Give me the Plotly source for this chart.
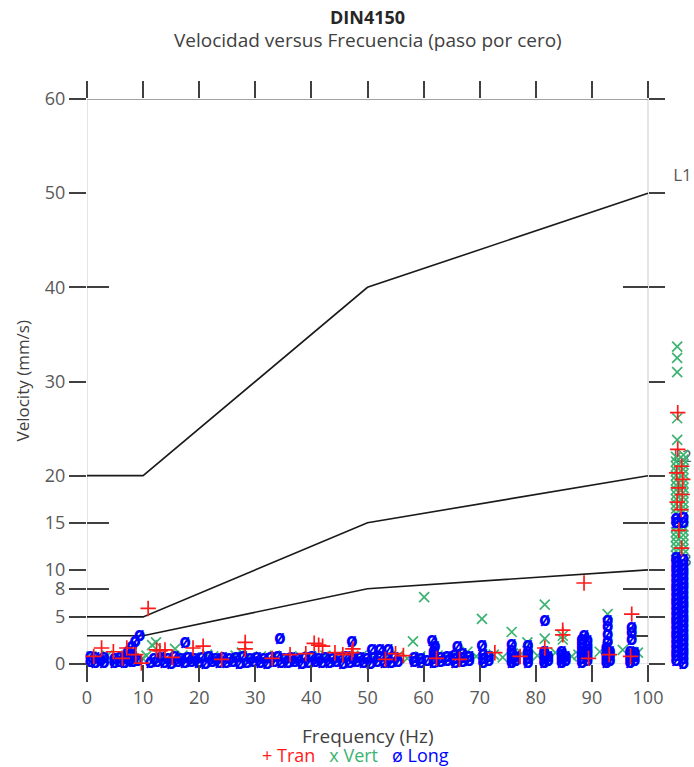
import plotly.graph_objects as go

# ---------------- text ----------------
TITLE = "DIN4150"
SUBTITLE = "Velocidad versus Frecuencia (paso por cero)"
X_TITLE = "Frequency (Hz)"
Y_TITLE = "Velocity (mm/s)"
SERIES_NAMES = ["Tran", "Vert", "Long"]
SERIES_SYMBOLS = ["+", "x", "ø"]

# ---------------- axes ----------------
X_TICKS = [0, 10, 20, 30, 40, 50, 60, 70, 80, 90, 100]
Y_TICKS = [0, 5, 8, 10, 15, 20, 30, 40, 50, 60]
Y_LONG_TICKS = [8, 15, 40]
Y_RIGHT_INNER_TICKS = [3, 5]
X_MAX = 100
Y_MAX = 60

# ---------------- DIN 4150 limit lines ----------------
LINE_FREQ = [0, 10, 50, 100]
L1_VEL = [20, 20, 40, 50]
L2_VEL = [5, 5, 15, 20]
L3_VEL = [3, 3, 8, 10]
LINE_LABELS = ["L1", "L2", "L3"]
LABEL_FREQ = [104.5, 104.5, 104.5]
LABEL_VEL = [51.7, 21.9, 10.9]

# ---------------- Tran (+) ----------------
TRAN_FREQ = [2.6, 4.7, 7.1, 8.7, 9.7, 10.9, 12.4, 13.0, 13.9, 18.9, 20.7, 28.2, 28.2,
             40.5, 41.3, 42.0, 47.2, 47.4, 72.7, 81.6, 84.8, 84.8, 88.6, 97.1,
             1.2, 6.3, 15.2, 24.0, 33.0, 36.2, 39.0, 44.2, 45.6, 53.2, 55.0, 56.4,
             62.3, 66.4, 77.2, 89.4, 93.1, 96.9]
TRAN_VEL = [1.7, 1.3, 1.7, 1.0, 0.1, 5.9, 1.5, 1.4, 1.5, 1.7, 1.9, 2.3, 1.6,
            2.2, 2.0, 1.9, 1.2, 1.6, 1.2, 1.7, 3.6, 3.1, 8.6, 5.3,
            0.8, 0.6, 0.7, 0.5, 0.6, 1.0, 1.1, 1.2, 1.0, 0.5, 1.1, 0.9,
            0.6, 0.5, 0.8, 0.6, 1.0, 0.8]
# points above 100 Hz (drawn in the column right of the frame)
TRAN_HIGH_FREQ = [105.3, 105.3, 106.0, 105.1, 106.2, 105.4, 106.1, 105.2, 105.9, 105.5, 106.0]
TRAN_HIGH_VEL = [26.7, 22.8, 21.0, 20.3, 19.6, 18.7, 18.0, 17.2, 16.4, 14.2, 12.3]

# ---------------- Vert (x) ----------------
VERT_FREQ = [11.6, 12.3, 15.7, 21.4, 27.6, 58.1, 60.1, 67.8, 70.4, 75.7, 78.5, 81.6, 81.6,
             84.8, 84.8, 92.8, 92.8, 97.1,
             0.8, 2.0, 3.6, 4.3, 5.5, 7.0, 9.9, 10.6, 13.0, 14.4, 17.0, 19.1, 22.5, 24.5,
             26.5, 29.0, 31.0, 33.5, 35.5, 38.0, 40.1, 42.5, 44.5, 46.2, 49.0, 51.0, 53.5,
             55.5, 57.1, 59.4, 62.5, 64.8, 67.2, 69.4, 72.5, 74.1, 77.5, 80.3, 83.5, 86.4,
             87.6, 91.4, 95.5, 98.2]
VERT_VEL = [2.0, 2.3, 1.6, 1.0, 1.2, 2.4, 7.1, 1.3, 4.8, 3.4, 2.3, 6.3, 2.7,
            2.6, 3.0, 5.3, 1.8, 1.3,
            0.8, 0.5, 0.9, 0.4, 0.7, 0.9, 0.6, 0.9, 0.8, 0.5, 0.9, 0.7, 0.8, 0.6,
            0.9, 0.7, 0.8, 0.9, 0.6, 0.8, 0.7, 0.9, 0.6, 0.8, 0.9, 0.7, 0.8,
            0.9, 0.6, 0.8, 0.9, 0.7, 0.9, 0.8, 1.0, 0.7, 1.1, 0.9, 1.2, 0.8,
            1.0, 1.3, 1.5, 1.2]
VERT_HIGH_FREQ = [105.0, 105.0, 105.0, 105.0, 105.0, 105.0, 105.0, 105.0, 105.0, 105.0,
                  105.0, 105.0, 105.0, 105.0, 105.0, 105.0, 105.0, 105.0, 105.0, 105.0,
                  106.3, 106.3, 106.3, 106.3, 106.3, 106.3, 106.3, 106.3, 106.3, 106.3,
                  106.3, 106.3, 106.3, 106.3, 106.3, 106.3, 106.3, 106.3, 106.3, 106.3,
                  105.2, 105.2, 105.2, 105.2, 105.2]
VERT_HIGH_VEL = [11.5, 12.0, 12.5, 13.0, 13.5, 14.0, 14.5, 16.0, 16.5, 17.0,
                 17.5, 18.0, 18.5, 19.0, 19.5, 20.0, 20.5, 21.0, 21.5, 22.0,
                 11.7, 12.2, 12.7, 13.2, 13.7, 14.2, 14.6, 16.2, 16.7, 17.2,
                 17.7, 18.2, 18.7, 19.2, 19.7, 20.2, 20.7, 21.2, 21.7, 22.2,
                 23.8, 26.1, 31.0, 32.5, 33.7]

# ---------------- Long (ø) ----------------
LONG_FREQ = [0.6, 0.6, 1.5, 1.5, 2.4, 3.0, 3.0,
             4.9, 4.9, 5.8, 5.8, 6.7, 6.7, 7.5,
             7.3, 8.0, 8.6, 9.4, 8.2, 8.2, 9.0, 7.8,
             11.3, 12.5, 13.8, 15.0, 16.2, 17.4, 18.6, 19.9, 21.1, 22.3, 23.6, 24.8, 26.0,
             27.2, 28.5, 29.7, 30.9, 32.1, 33.4, 34.6, 35.8, 37.0, 38.3, 39.5, 40.7, 41.9,
             43.2, 44.4, 45.6, 46.8, 48.1, 49.3, 50.5, 51.7, 53.0, 54.2, 55.4,
             11.9, 13.1, 14.4, 15.6, 16.8, 18.0, 19.2, 20.5, 21.7, 22.9, 24.2, 25.4, 26.6,
             27.8, 29.1, 30.3, 31.5, 32.7, 34.0, 35.2, 36.4, 37.6, 38.9, 40.1, 41.3, 42.5,
             43.8, 45.0, 46.2, 47.4, 48.7, 49.9, 51.1, 52.3, 53.6, 54.8,
             17.5, 34.4, 47.2, 50.8, 52.2, 53.7,
             58.3, 58.3, 59.5, 59.5, 60.6,
             61.8, 61.8, 61.8, 61.8, 61.5, 62.0, 63.0, 63.0, 64.2, 64.2,
             65.6, 65.6, 65.6, 66.0, 66.9, 66.9, 66.9, 68.1, 68.1,
             70.6, 70.6, 70.6, 70.4, 71.6, 71.6,
             75.7, 75.7, 75.7, 75.7, 75.7, 76.4, 76.4,
             78.6, 78.6, 78.6, 78.6, 78.6,
             81.5, 81.5, 81.5, 81.5, 81.6, 82.2, 82.2,
             84.6, 84.6, 84.6, 84.6, 85.3, 85.3,
             88.2, 88.2, 88.2, 88.2, 88.2, 88.2, 88.2, 88.6, 89.2, 89.2, 89.2, 89.2, 89.2, 89.2,
             92.6, 92.6, 92.6, 92.6, 92.6, 92.8, 92.8, 92.8, 92.8, 93.2, 93.2, 93.2,
             96.8, 96.8, 96.8, 96.8, 97.1, 97.1, 97.1, 97.6, 97.6, 97.6]
LONG_VEL = [0.2, 0.7, 0.1, 0.6, 0.3, 0.1, 0.6,
            0.1, 0.5, 0.2, 0.6, 0.1, 0.5, 0.3,
            1.3, 1.8, 2.3, 2.9, 0.2, 0.7, 0.3, 0.9,
            0.1, 0.2, 0.1, 0.0, 0.2, 0.1, 0.2, 0.1, 0.0, 0.2, 0.1, 0.1, 0.2,
            0.0, 0.1, 0.2, 0.1, 0.0, 0.2, 0.1, 0.1, 0.2, 0.0, 0.1, 0.2, 0.1,
            0.1, 0.2, 0.0, 0.1, 0.2, 0.1, 0.0, 0.2, 0.1, 0.1, 0.2,
            0.5, 0.6, 0.5, 0.7, 0.5, 0.6, 0.5, 0.6, 0.7, 0.5, 0.6, 0.5, 0.6,
            0.7, 0.5, 0.6, 0.5, 0.6, 0.7, 0.5, 0.6, 0.5, 0.6, 0.7, 0.5, 0.6,
            0.5, 0.6, 0.7, 0.5, 0.6, 0.5, 0.6, 0.7, 0.5, 0.6,
            2.2, 2.6, 2.3, 1.5, 1.5, 1.5,
            0.2, 0.6, 0.1, 0.5, 0.3,
            0.1, 0.5, 0.9, 1.3, 2.4, 1.8, 0.2, 0.6, 0.3, 0.7,
            0.1, 0.5, 0.9, 1.8, 0.2, 0.6, 1.0, 0.3, 0.7,
            0.1, 0.5, 0.9, 1.9, 0.3, 0.7,
            0.1, 0.5, 0.9, 1.4, 2.0, 0.3, 0.7,
            0.1, 0.5, 0.9, 1.3, 1.9,
            0.1, 0.5, 0.9, 1.2, 4.5, 0.3, 0.7,
            0.1, 0.5, 0.9, 1.3, 0.3, 0.7,
            0.1, 0.5, 0.9, 1.3, 1.7, 2.1, 2.5, 3.0, 0.3, 0.7, 1.1, 1.5, 1.9, 2.4,
            0.1, 0.5, 0.9, 1.3, 1.7, 2.3, 3.1, 3.9, 4.5, 0.3, 0.8, 1.2,
            0.1, 0.5, 0.9, 1.3, 2.5, 3.3, 3.8, 0.3, 0.7, 1.1]
# column of points above 100 Hz: two sub-columns
LONG_HIGH_FREQ_A = 105.0
LONG_HIGH_VEL_A = [-0.2, 0.3, 0.8, 1.3, 1.8, 2.3, 2.8, 3.3, 3.8, 4.3, 4.8, 5.3, 5.8,
                   6.3, 6.8, 7.3, 7.8, 8.3, 8.8, 9.3, 9.8, 10.3, 10.8, 11.2, 14.9, 15.4]
LONG_HIGH_FREQ_B = 106.3
LONG_HIGH_VEL_B = [0.0, 0.5, 1.0, 1.5, 2.0, 2.5, 3.0, 3.5, 4.0, 4.5, 5.0, 5.5, 6.0,
                   6.5, 7.0, 7.5, 8.0, 8.5, 9.0, 9.5, 10.0, 10.5, 11.0, 15.0, 15.5]

assert len(TRAN_FREQ) == len(TRAN_VEL)
assert len(TRAN_HIGH_FREQ) == len(TRAN_HIGH_VEL)
assert len(VERT_FREQ) == len(VERT_VEL)
assert len(VERT_HIGH_FREQ) == len(VERT_HIGH_VEL)
assert len(LONG_FREQ) == len(LONG_VEL)

# ---------------- style ----------------
FONT = "Open Sans"
C_TRAN = "#ff1a1a"
C_VERT = "#3cb371"
C_LONG = "#0000ff"
C_TEXT = "#404040"
C_TICKLBL = "#595959"
C_TICK = "#404040"
X_RANGE = [0, 108.2]
W, H = 694, 767
M_L, M_R, M_T, M_B = 87, 0, 99, 103
PLOT_W = W - M_L - M_R
PLOT_H = H - M_T - M_B

fig = go.Figure()

# labels of limit lines (drawn first so the points cover them)
fig.add_trace(go.Scatter(x=LABEL_FREQ, y=LABEL_VEL, mode="text", text=LINE_LABELS,
                         textposition="middle right", cliponaxis=False,
                         textfont=dict(family=FONT, size=17, color=C_TICKLBL),
                         showlegend=False, hoverinfo="skip"))

for vel in (L1_VEL, L2_VEL, L3_VEL):
    fig.add_trace(go.Scatter(x=LINE_FREQ, y=vel, mode="lines",
                             line=dict(color="#1a1a1a", width=1.6),
                             showlegend=False, hoverinfo="skip", cliponaxis=False))

long_x = (LONG_FREQ + [LONG_HIGH_FREQ_A] * len(LONG_HIGH_VEL_A)
          + [LONG_HIGH_FREQ_B] * len(LONG_HIGH_VEL_B))
long_y = LONG_VEL + LONG_HIGH_VEL_A + LONG_HIGH_VEL_B

fig.add_trace(go.Scatter(x=VERT_FREQ + VERT_HIGH_FREQ, y=VERT_VEL + VERT_HIGH_VEL,
                         mode="markers", name=SERIES_NAMES[1], cliponaxis=False,
                         marker=dict(symbol="x-thin-open", size=10, color=C_VERT,
                                     line=dict(color=C_VERT, width=1.7)),
                         showlegend=False))
fig.add_trace(go.Scatter(x=long_x, y=long_y, mode="text", name=SERIES_NAMES[2],
                         text=[SERIES_SYMBOLS[2]] * len(long_x), cliponaxis=False,
                         textfont=dict(family=FONT, size=19, color=C_LONG, weight="bold"),
                         showlegend=False))
fig.add_trace(go.Scatter(x=TRAN_FREQ + TRAN_HIGH_FREQ, y=TRAN_VEL + TRAN_HIGH_VEL,
                         mode="markers", name=SERIES_NAMES[0], cliponaxis=False,
                         marker=dict(symbol="cross-thin-open", size=11, color=C_TRAN,
                                     line=dict(color=C_TRAN, width=1.7)),
                         showlegend=False))

# invisible traces so the tick-only overlay axes are drawn
for xa, ya in (("x2", "y"), ("x", "y2"), ("x", "y3"), ("x", "y4"), ("x", "y5")):
    fig.add_trace(go.Scatter(x=[None], y=[None], xaxis=xa, yaxis=ya,
                             showlegend=False, hoverinfo="skip"))

# frame lines
fig.add_shape(type="rect", x0=0, x1=X_MAX, y0=0, y1=Y_MAX, xref="x", yref="y",
              line=dict(color="#d4d4d4", width=1.2), layer="below")
fig.add_shape(type="line", x0=0, x1=X_MAX, y0=Y_MAX, y1=Y_MAX, xref="x", yref="y",
              line=dict(color="#8c8c8c", width=1.5), layer="below")

tickfont = dict(family=FONT, size=18, color=C_TICKLBL)
common_y = dict(range=[0, Y_MAX], showgrid=False, zeroline=False, showline=False,
                tickwidth=2, tickcolor=C_TICK, automargin=False)
right_pos = X_MAX / X_RANGE[1]

fig.update_layout(
    width=W, height=H,
    margin=dict(l=M_L, r=M_R, t=M_T, b=M_B, autoexpand=False),
    plot_bgcolor="white", paper_bgcolor="white",
    showlegend=False,
    xaxis=dict(range=X_RANGE, tickvals=X_TICKS, ticks="outside", ticklen=17,
               tickwidth=2, tickcolor=C_TICK, showgrid=False, zeroline=False,
               showline=False, tickfont=tickfont, automargin=False),
    xaxis2=dict(overlaying="x", matches="x", side="top", anchor="y", tickvals=X_TICKS,
                ticks="outside", ticklen=17, tickwidth=2, tickcolor=C_TICK,
                showticklabels=False, showgrid=False, zeroline=False, showline=False,
                automargin=False),
    yaxis=dict(tickvals=Y_TICKS, ticks="outside", ticklen=17, tickfont=tickfont,
               **common_y),
    yaxis2=dict(overlaying="y", matches="y", side="left", anchor="x",
                tickvals=Y_LONG_TICKS, ticks="inside", ticklen=22,
                showticklabels=False, **common_y),
    yaxis3=dict(overlaying="y", matches="y", side="right", anchor="free",
                position=right_pos, tickvals=Y_TICKS, ticks="outside", ticklen=16,
                showticklabels=False, **common_y),
    yaxis4=dict(overlaying="y", matches="y", side="right", anchor="free",
                position=right_pos, tickvals=Y_LONG_TICKS, ticks="inside", ticklen=25,
                showticklabels=False, **common_y),
    yaxis5=dict(overlaying="y", matches="y", side="right", anchor="free",
                position=right_pos, tickvals=Y_RIGHT_INNER_TICKS, ticks="inside",
                ticklen=12, showticklabels=False, **common_y),
)

legend_text = ("<span style='color:%s'>%s %s</span>   "
               "<span style='color:%s'>%s %s</span>   "
               "<span style='color:%s'>%s %s</span>") % (
    C_TRAN, SERIES_SYMBOLS[0], SERIES_NAMES[0],
    C_VERT, SERIES_SYMBOLS[1], SERIES_NAMES[1],
    C_LONG, SERIES_SYMBOLS[2], SERIES_NAMES[2])

centered = dict(showarrow=False, xanchor="center", yanchor="middle")
annotations = [
    dict(text="<b>%s</b>" % TITLE, x=X_MAX / 2, xref="x", y=1 + 82 / PLOT_H, yref="paper",
         font=dict(family=FONT, size=18, color="#262626"), **centered),
    dict(text=SUBTITLE, x=X_MAX / 2, xref="x", y=1 + 59 / PLOT_H, yref="paper",
         font=dict(family=FONT, size=19, color=C_TEXT), **centered),
    dict(text=X_TITLE, x=X_MAX / 2, xref="x", y=-72 / PLOT_H, yref="paper",
         font=dict(family=FONT, size=19, color=C_TEXT), **centered),
    dict(text=legend_text, x=47.8, xref="x", y=-91 / PLOT_H, yref="paper",
         font=dict(family=FONT, size=18), **centered),
    dict(text=Y_TITLE, x=-65 / PLOT_W, xref="paper", y=Y_MAX / 2, yref="y",
         textangle=-90, font=dict(family=FONT, size=17, color=C_TEXT), **centered),
]
fig.update_layout(annotations=annotations)

# remove the browser's default 8px page margin so the figure fills the window
fig.write_html("out.html", config={"displayModeBar": False},
               post_script="document.body.style.margin='0px';")
